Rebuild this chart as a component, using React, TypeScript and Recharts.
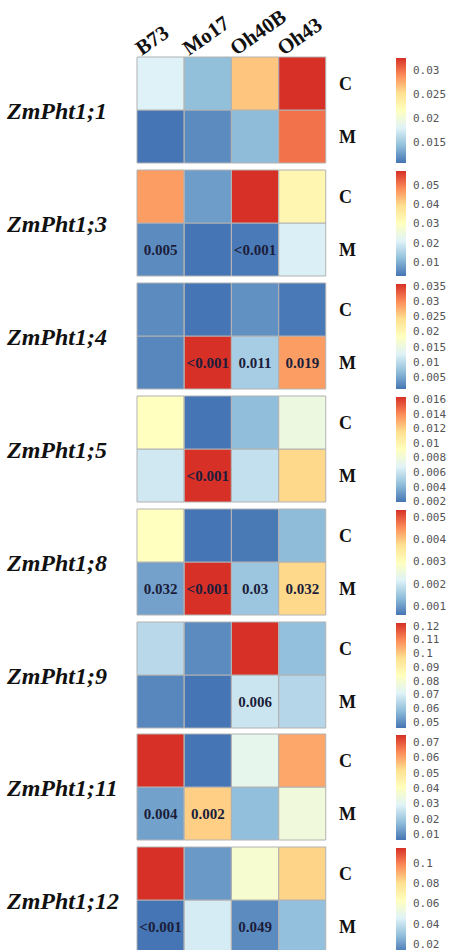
import React from "react"
import { BarChart, Bar, XAxis, YAxis, Cell, LabelList } from "recharts"

const strains = ["B73", "Mo17", "Oh40B", "Oh43"]
const genes = ["ZmPht1;1", "ZmPht1;3", "ZmPht1;4", "ZmPht1;5", "ZmPht1;8", "ZmPht1;9", "ZmPht1;11", "ZmPht1;12"]

// control (C) row, one array per gene, columns follow strains
const cValues = [
  [0.0178, 0.0143, 0.0264, 0.0325],
  [0.0464, 0.0076, 0.0573, 0.0327],
  [0.0027, 0.001, 0.0031, 0.0013],
  [0.0091, 0.0019, 0.0043, 0.0077],
  [0.00295, 0.0006, 0.00065, 0.00135],
  [0.0648, 0.0495, 0.122, 0.0587],
  [0.0745, 0.0061, 0.0314, 0.0595],
  [0.1146, 0.0193, 0.0576, 0.0825],
]

// mycorrhizal (M) row
const mValues = [
  [0.0106, 0.0117, 0.0141, 0.0299],
  [0.0054, 0.0027, 0.0033, 0.0202],
  [0.0024, 0.0357, 0.0083, 0.0288],
  [0.0062, 0.0163, 0.0058, 0.0117],
  [0.00107, 0.0053, 0.00149, 0.0038],
  [0.0488, 0.0457, 0.0678, 0.064],
  [0.0129, 0.054, 0.0177, 0.0348],
  [0.011, 0.0431, 0.0162, 0.0286],
]

// p-values printed in the M cells
const mLabels = [
  ["", "", "", ""],
  ["0.005", "", "<0.001", ""],
  ["", "<0.001", "0.011", "0.019"],
  ["", "<0.001", "", ""],
  ["0.032", "<0.001", "0.03", "0.032"],
  ["", "", "0.006", ""],
  ["0.004", "0.002", "", ""],
  ["<0.001", "", "0.049", ""],
]

const legendMin = [0.0106, 0.0027, 0.001, 0.0019, 0.0006, 0.0457, 0.0061, 0.011]
const legendMax = [0.0325, 0.0573, 0.0357, 0.0163, 0.0053, 0.122, 0.0745, 0.1146]
const legendTicks = [
  [0.03, 0.025, 0.02, 0.015],
  [0.05, 0.04, 0.03, 0.02, 0.01],
  [0.035, 0.03, 0.025, 0.02, 0.015, 0.01, 0.005],
  [0.016, 0.014, 0.012, 0.01, 0.008, 0.006, 0.004, 0.002],
  [0.005, 0.004, 0.003, 0.002, 0.001],
  [0.12, 0.11, 0.1, 0.09, 0.08, 0.07, 0.06, 0.05],
  [0.07, 0.06, 0.05, 0.04, 0.03, 0.02, 0.01],
  [0.1, 0.08, 0.06, 0.04, 0.02],
]

const ramp = ["#4575B4", "#91BFDB", "#E0F3F8", "#FFFFBF", "#FEE090", "#FC8D59", "#D73027"]

const PANEL_TOP = 57
const PANEL_STEP = 112.9
const PANEL_H = 106
const HEAD = 57
const serif = "'Liberation Serif', 'Times New Roman', serif"

function hexToRgb(h: string) {
  const n = parseInt(h.slice(1), 16)
  return [(n >> 16) & 255, (n >> 8) & 255, n & 255]
}

function colorAt(t: number) {
  const tt = Math.max(0, Math.min(1, t))
  const p = tt * (ramp.length - 1)
  const i = Math.min(Math.floor(p), ramp.length - 2)
  const f = p - i
  const a = hexToRgb(ramp[i])
  const b = hexToRgb(ramp[i + 1])
  const c = a.map((v, k) => Math.round(v + (b[k] - v) * f))
  return `rgb(${c[0]},${c[1]},${c[2]})`
}

const StrainTick = (props: any) => {
  const { x, y, payload } = props
  return (
    <g transform={`translate(${x - 19},${y})`}>
      <text transform="rotate(-35)" textAnchor="start" fontFamily={serif} fontWeight="bold" fontSize={21} fill="#111">
        {payload.value}
      </text>
    </g>
  )
}

const RowTick = (props: any) => {
  const { x, y, payload } = props
  return (
    <text x={x} y={y} dy={6} textAnchor="start" fontFamily={serif} fontWeight="bold" fontSize={18} fill="#111">
      {payload.value < 1 ? "M" : "C"}
    </text>
  )
}

function Panel({ idx }: { idx: number }) {
  const lo = legendMin[idx]
  const hi = legendMax[idx]
  const data = strains.map((s, j) => ({
    strain: s,
    m: 1,
    c: 1,
    mv: mValues[idx][j],
    cv: cValues[idx][j],
    lbl: mLabels[idx][j],
  }))
  const first = idx === 0
  return (
    <BarChart
      width={230}
      height={PANEL_H + (first ? HEAD : 0)}
      data={data}
      margin={{ top: 0, right: 0, bottom: 0, left: 0 }}
      barCategoryGap={0}
      barGap={0}
    >
      <XAxis
        dataKey="strain"
        orientation="top"
        hide={!first}
        height={HEAD}
        axisLine={false}
        tickLine={false}
        tickSize={0}
        tickMargin={1}
        interval={0}
        tick={<StrainTick />}
      />
      <YAxis
        type="number"
        domain={[0, 2]}
        ticks={[0.5, 1.5]}
        orientation="right"
        width={41}
        axisLine={false}
        tickLine={false}
        tickSize={0}
        tickMargin={13}
        interval={0}
        tick={<RowTick />}
      />
      <Bar dataKey="m" stackId="a" isAnimationActive={false}>
        {data.map((d) => (
          <Cell key={d.strain} fill={colorAt((d.mv - lo) / (hi - lo))} stroke="#b2b2b2" strokeWidth={1} />
        ))}
        <LabelList
          dataKey="lbl"
          position="center"
          fontFamily={serif}
          fontWeight="bold"
          fontSize={15}
          fill="#1b1d3a"
        />
      </Bar>
      <Bar dataKey="c" stackId="a" isAnimationActive={false}>
        {data.map((d) => (
          <Cell key={d.strain} fill={colorAt((d.cv - lo) / (hi - lo))} stroke="#b2b2b2" strokeWidth={1} />
        ))}
      </Bar>
    </BarChart>
  )
}

function ColorBar({ idx }: { idx: number }) {
  const lo = legendMin[idx]
  const hi = legendMax[idx]
  const data = [{ k: "scale", range: [lo, hi] }]
  const gid = `ramp${idx}`
  return (
    <BarChart width={60} height={PANEL_H} data={data} margin={{ top: 1, right: 0, bottom: 0, left: 0 }} barCategoryGap={0}>
      <defs>
        <linearGradient id={gid} x1="0" y1="0" x2="0" y2="1">
          {ramp
            .slice()
            .reverse()
            .map((c, i) => (
              <stop key={c} offset={`${(i / (ramp.length - 1)) * 100}%`} stopColor={c} />
            ))}
        </linearGradient>
      </defs>
      <XAxis dataKey="k" hide />
      <YAxis
        type="number"
        domain={[lo, hi]}
        allowDataOverflow
        ticks={legendTicks[idx]}
        orientation="right"
        width={50}
        axisLine={false}
        tickLine={false}
        tickSize={0}
        tickMargin={7}
        interval={0}
        tick={{ fontFamily: "'DejaVu Sans Mono', monospace", fontSize: 11, fill: "#555", textAnchor: "start" }}
        tickFormatter={(v: number) => String(v)}
      />
      <Bar dataKey="range" fill={`url(#${gid})`} isAnimationActive={false} />
    </BarChart>
  )
}

export default function App() {
  return (
    <div style={{ position: "absolute", left: 0, top: 0, width: 457, height: 950, background: "#fff", overflow: "hidden" }}>
      <style>{`.recharts-surface { overflow: visible; }`}</style>
      {genes.map((g, i) => {
        const top = Math.round(PANEL_TOP + i * PANEL_STEP)
        return (
          <React.Fragment key={g}>
            <div
              style={{
                position: "absolute",
                left: 7,
                top: top + PANEL_H / 2 - 13,
                fontFamily: serif,
                fontWeight: "bold",
                fontStyle: "italic",
                fontSize: 24,
                lineHeight: "28px",
                color: "#111",
                whiteSpace: "nowrap",
              }}
            >
              {g}
            </div>
            <div style={{ position: "absolute", left: 137, top: i === 0 ? top - HEAD : top }}>
              <Panel idx={i} />
            </div>
            <div style={{ position: "absolute", left: 396, top }}>
              <ColorBar idx={i} />
            </div>
          </React.Fragment>
        )
      })}
    </div>
  )
}
